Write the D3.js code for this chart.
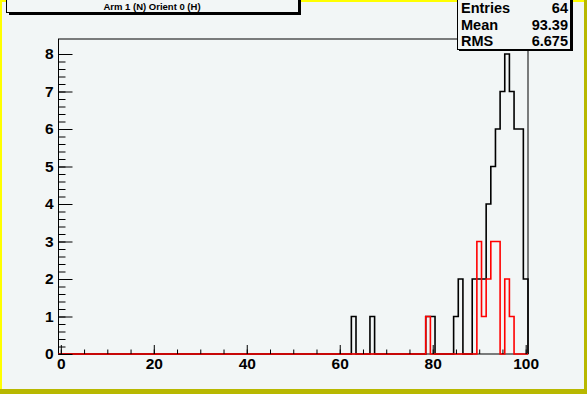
<!DOCTYPE html>
<html>
<head>
<meta charset="utf-8">
<script src="https://cdn.jsdelivr.net/npm/d3@7"></script>
<style>
  html, body { margin: 0; padding: 0; background: #f2f6f6; }
  svg { display: block; }
  text { font-family: "Liberation Sans", Arial, sans-serif; font-weight: bold; }
</style>
</head>
<body>
<svg id="chart" width="587" height="394"></svg>
<script>
// histogram bins (integer centres, width 1)
const blackBins = [63, 67, 79, 80, 85, 86, 89, 90, 91, 92, 93, 94, 95, 96, 97, 98, 99, 100];
const blackCounts = [1, 1, 1, 1, 1, 2, 2, 2, 2, 4, 5, 6, 7, 8, 7, 6, 6, 2];
const redBins = [79, 90, 91, 92, 93, 94, 96, 97];
const redCounts = [1, 3, 1, 2, 3, 3, 2, 1];

const xTicks = [0, 20, 40, 60, 80, 100];
const yTicks = [0, 1, 2, 3, 4, 5, 6, 7, 8];

const titleText = "Arm 1 (N) Orient 0 (H)";
const statNames = ["Entries", "Mean", "RMS"];
const statValues = ["64", "93.39", "6.675"];

const svg = d3.select('#chart');
const W = 587, H = 394;

// canvas background + bevel border
svg.append('rect').attr('width', W).attr('height', H).attr('fill', '#f2f6f6');
svg.append('rect').attr('x', 0).attr('y', 0).attr('width', W).attr('height', 2).attr('fill', '#ffff00');
svg.append('rect').attr('x', 0).attr('y', 0).attr('width', 2).attr('height', H).attr('fill', '#ffff00');
svg.append('rect').attr('x', W - 3).attr('y', 0).attr('width', 3).attr('height', H).attr('fill', '#b8b800');
svg.append('rect').attr('x', 0).attr('y', H - 5).attr('width', W).attr('height', 5).attr('fill', '#b8b800');

const x = d3.scaleLinear().domain([-0.5, 100.5]).range([58.5, 528]);
const y = d3.scaleLinear().domain([0, 8.4]).range([354, 39]);

// frame
svg.append('rect')
    .attr('x', x.range()[0]).attr('y', y.range()[1])
    .attr('width', x.range()[1] - x.range()[0])
    .attr('height', y.range()[0] - y.range()[1])
    .attr('fill', 'none').attr('stroke', '#000').attr('stroke-width', 1);

// turn sparse bins into a step outline over the whole axis
function outline(bins, counts) {
    const full = d3.range(0, 101).map(() => 0);
    bins.forEach((b, i) => { full[b] = counts[i]; });
    const pts = [[-0.5, 0]];
    full.forEach((c, i) => { pts.push([i - 0.5, c]); pts.push([i + 0.5, c]); });
    pts.push([100.5, 0]);
    return d3.line().x(d => x(d[0])).y(d => y(d[1]))(pts);
}

svg.append('path')
    .attr('d', outline(blackBins, blackCounts))
    .attr('fill', 'none').attr('stroke', '#000').attr('stroke-width', 1.6);
svg.append('path')
    .attr('d', outline(redBins, redCounts))
    .attr('fill', 'none').attr('stroke', '#ff0000').attr('stroke-width', 1.6);

// x axis: ticks point into the frame
svg.append('g').attr('transform', `translate(0,${y(0)})`)
    .call(d3.axisBottom(x).tickValues(xTicks).tickSizeInner(-9).tickSizeOuter(0).tickPadding(4).tickFormat(d3.format('d')));
svg.append('g').attr('transform', `translate(0,${y(0)})`)
    .call(d3.axisBottom(x).tickValues(d3.range(0, 101, 5)).tickSizeInner(-4.5).tickSizeOuter(0).tickFormat(''));

svg.append('g').attr('transform', `translate(${x.range()[0]},0)`)
    .call(d3.axisLeft(y).tickValues(yTicks).tickSizeInner(-14).tickSizeOuter(0).tickPadding(5).tickFormat(d3.format('d')));
svg.append('g').attr('transform', `translate(${x.range()[0]},0)`)
    .call(d3.axisLeft(y).tickValues(d3.range(0, 41).map(i => i * 0.2)).tickSizeInner(-7).tickSizeOuter(0).tickFormat(''));

svg.selectAll('.domain').remove();
svg.selectAll('.tick line').attr('stroke', '#000');
svg.selectAll('.tick text')
    .attr('fill', '#000')
    .style('font-family', '"Liberation Sans", Arial, sans-serif')
    .style('font-weight', 'bold')
    .style('font-size', '15.5px');

// title pave
svg.append('rect').attr('x', 9).attr('y', -10).attr('width', 292).attr('height', 25).attr('fill', '#000');
svg.append('rect').attr('x', 6.5).attr('y', -10).attr('width', 292).attr('height', 22.5)
    .attr('fill', '#f2f6f6').attr('stroke', '#000').attr('stroke-width', 1);
svg.append('text').attr('x', 152).attr('y', 10).attr('text-anchor', 'middle')
    .style('font-size', '9.5px').text(titleText);

// stats box
svg.append('rect').attr('x', 459).attr('y', -10).attr('width', 114).attr('height', 61).attr('fill', '#000');
svg.append('rect').attr('x', 457.5).attr('y', -10).attr('width', 113).attr('height', 59.5)
    .attr('fill', '#f2f6f6').attr('stroke', '#000').attr('stroke-width', 1);
const rows = svg.append('g').selectAll('g').data(statNames).join('g')
    .attr('transform', (d, i) => `translate(0,${13 + i * 16.5})`);
rows.append('text').attr('x', 461).style('font-size', '14.5px').text(d => d);
rows.append('text').attr('x', 568).attr('text-anchor', 'end').style('font-size', '14.5px')
    .text((d, i) => statValues[i]);
</script>
</body>
</html>
